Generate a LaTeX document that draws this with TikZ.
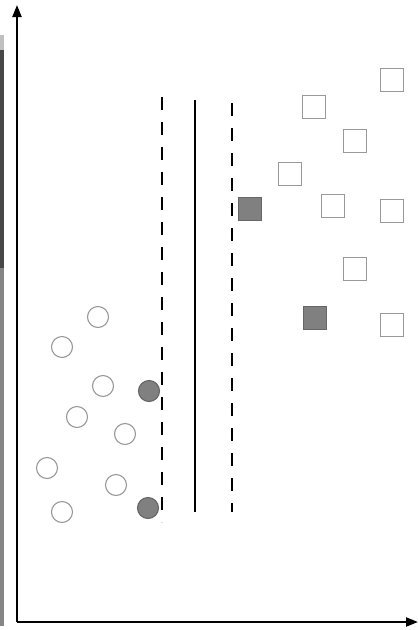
\documentclass[tikz,border=0pt]{standalone}
\usetikzlibrary{arrows.meta}
\begin{document}
\begin{tikzpicture}[x=1pt,y=-1pt,
  axis/.style={line width=2.2pt,-{Triangle[length=12pt,width=9pt]}},
  hollowc/.style={circle,draw=black!40,line width=1.1pt,minimum size=21pt,inner sep=0pt},
  filledc/.style={circle,draw=black!60,fill=black!50,line width=1.1pt,minimum size=21pt,inner sep=0pt},
  hollows/.style={rectangle,draw=black!40,line width=1.1pt,minimum size=23pt,inner sep=0pt},
  filleds/.style={rectangle,draw=black!60,fill=black!50,line width=1.1pt,minimum size=23pt,inner sep=0pt},
  margin/.style={line width=1.9pt,dash pattern=on 13pt off 12pt},
  hyper/.style={line width=2.4pt}]
\useasboundingbox (0,0) rectangle (418,630);
% scan strip at the left edge
\fill[black!25] (0,35) rectangle (4,50);
\fill[black!72] (0,50) rectangle (4,268);
\fill[black!48] (0,268) rectangle (4,626);
% axes
\coordinate (O) at (17,622);
\coordinate (Ytop) at (17,5);
\coordinate (Xend) at (418,622);
\draw[axis] (O) -- (Ytop);
\draw[axis] (O) -- (Xend);
% separating lines
\coordinate (m1a) at (162,97);  \coordinate (m1b) at (162,522);
\coordinate (ha) at (195,100);  \coordinate (hb) at (195,512);
\coordinate (m2a) at (232,103); \coordinate (m2b) at (232,512);
\draw[margin] (m1a) -- (m1b);
\draw[hyper] (ha) -- (hb);
\draw[margin] (m2a) -- (m2b);
% circles
\node[hollowc] (c1) at (98,317) {};
\node[hollowc] (c2) at (62,347) {};
\node[hollowc] (c3) at (103,386) {};
\node[filledc] (c4) at (149,391) {};
\node[hollowc] (c5) at (77,417) {};
\node[hollowc] (c6) at (125,434) {};
\node[hollowc] (c7) at (47,468) {};
\node[hollowc] (c8) at (116,485) {};
\node[hollowc] (c9) at (62,512) {};
\node[filledc] (c10) at (148,508) {};
% squares
\node[hollows] (s1) at (392,80) {};
\node[hollows] (s2) at (314,107) {};
\node[hollows] (s3) at (355,141) {};
\node[hollows] (s4) at (290,174) {};
\node[filleds] (s5) at (250,209) {};
\node[hollows] (s6) at (333,206) {};
\node[hollows] (s7) at (392,211) {};
\node[hollows] (s8) at (355,269) {};
\node[filleds] (s9) at (315,318) {};
\node[hollows] (s10) at (392,325) {};
\end{tikzpicture}
\end{document}
